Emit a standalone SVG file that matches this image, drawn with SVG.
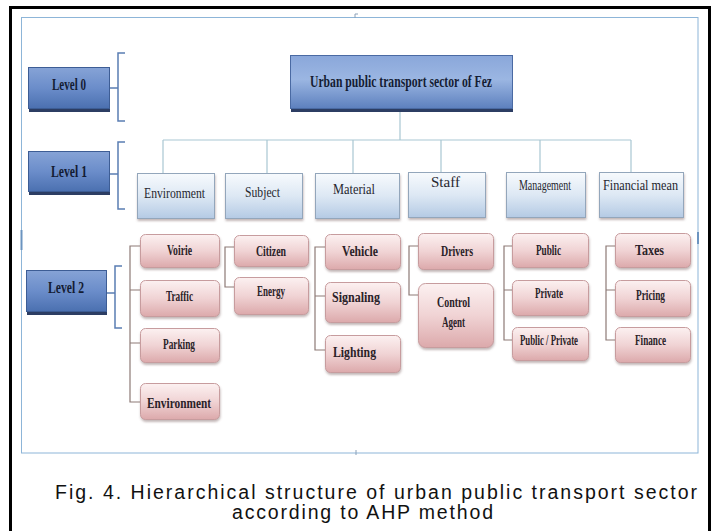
<svg xmlns="http://www.w3.org/2000/svg" width="718" height="531" viewBox="0 0 718 531">
  <defs>
    <linearGradient id="gDark" x1="0" y1="0" x2="0" y2="1">
      <stop offset="0" stop-color="#86a3d6"/>
      <stop offset="0.5" stop-color="#6b8dca"/>
      <stop offset="1" stop-color="#4b70b0"/>
    </linearGradient>
    <linearGradient id="gTop" x1="0" y1="0" x2="0" y2="1">
      <stop offset="0" stop-color="#8aa7da"/>
      <stop offset="0.45" stop-color="#9bb6e2"/>
      <stop offset="1" stop-color="#5d80be"/>
    </linearGradient>
    <linearGradient id="gL1" x1="0" y1="0" x2="0" y2="1">
      <stop offset="0" stop-color="#f7fafd"/>
      <stop offset="0.5" stop-color="#dde8f4"/>
      <stop offset="1" stop-color="#b4cae4"/>
    </linearGradient>
    <linearGradient id="gL2" x1="0" y1="0" x2="0" y2="1">
      <stop offset="0" stop-color="#fcf1f1"/>
      <stop offset="0.5" stop-color="#f0d3d4"/>
      <stop offset="1" stop-color="#dca9ab"/>
    </linearGradient>
    <filter id="soft" x="-10%" y="-10%" width="120%" height="140%">
      <feDropShadow dx="0.5" dy="2" stdDeviation="1.2" flood-color="#7a6060" flood-opacity="0.45"/>
    </filter>
  </defs>
  <style>
    .lvl { fill: url(#gDark); stroke: #3d5d95; stroke-width: 1; }
    .lvlsh { fill: #2c3d63; }
    .l1 { fill: url(#gL1); stroke: #93a6bb; stroke-width: 1; filter: url(#soft); }
    .l2 { fill: url(#gL2); stroke: #c79c9e; stroke-width: 1; filter: url(#soft); }
    .tl { font-family: "Liberation Serif", "DejaVu Serif", serif; font-weight: bold; font-size: 16.5px; fill: #141c33; }
    .t1 { font-family: "Liberation Serif", "DejaVu Serif", serif; font-size: 15.5px; fill: #26262e; }
    .t2 { font-family: "Liberation Serif", "DejaVu Serif", serif; font-weight: bold; font-size: 14.5px; fill: #2a2228; }
    .tree { fill: none; stroke: #a9c7d3; stroke-width: 1.2; }
    .sub { fill: none; stroke: #8d7a76; stroke-width: 1.2; }
    .brk { fill: none; stroke: #5a7db3; stroke-width: 1.5; }
    .cap { font-family: "Liberation Sans", Arial, sans-serif; font-size: 19.5px; fill: #111; }
  </style>

  <rect width="718" height="531" fill="#ffffff"/>
  <!-- outer frame -->
  <path d="M10.5 540 V7.5 H709.5 V540" fill="none" stroke="#000" stroke-width="3"/>
  <!-- inner picture frame with handles -->
  <rect x="21.5" y="17.5" width="676.5" height="435.5" fill="none" stroke="#8db5d8" stroke-width="1"/>
  <path d="M355 14 V18 M355 14 H358" stroke="#8aa0b8" stroke-width="1" fill="none"/>
  <path d="M356 450 V455" stroke="#8aa0b8" stroke-width="1" fill="none"/>
  <path d="M21.5 230 V250" stroke="#6b94c0" stroke-width="2"/>
  <path d="M698 232 V244" stroke="#6b94c0" stroke-width="2"/>

  <!-- connectors -->
  <g id="connectors">
    <!-- level brackets -->
    <path class="brk" d="M110 88 H118 M125 53 H118 V121 H125"/>
    <path class="brk" d="M110 174 H118 M125 142 H118 V209 H125"/>
    <path class="brk" d="M107 293 H115 M122 266 H115 V328 H122"/>
    <!-- level 0 to level 1 -->
    <path class="tree" d="M400 112 V140 M163 140 H631 M163 140 V173 M267 140 V173 M353 140 V173 M441 140 V173 M540 140 V173 M631 140 V173"/>
    <!-- level 1 to level 2 -->
    <path class="sub" d="M140 246 H130 V402 H140 M130 290 H140 M130 343 H140"/>
    <path class="sub" d="M234 247 H225 V287 H234"/>
    <path class="sub" d="M325 247 H315 V350 H325 M315 296 H325"/>
    <path class="sub" d="M418 246 H409 V295 H418"/>
    <path class="sub" d="M512 246 H504 V340 H512 M504 290 H512"/>
    <path class="sub" d="M615 246 H606 V340 H615 M606 290 H615"/>
  </g>

  <!-- level labels -->
  <g id="level0">
    <rect class="lvlsh" x="29" y="69" width="81" height="43"/>
    <rect class="lvl" x="28.5" y="67.5" width="81" height="41"/>
    <text class="tl" x="52" y="90" textLength="34" lengthAdjust="spacingAndGlyphs">Level 0</text>
  </g>
  <g id="level1">
    <rect class="lvlsh" x="29" y="153" width="81" height="42"/>
    <rect class="lvl" x="28.5" y="151.5" width="81" height="40"/>
    <text class="tl" x="51" y="177" textLength="36" lengthAdjust="spacingAndGlyphs">Level 1</text>
  </g>
  <g id="level2">
    <rect class="lvlsh" x="27" y="272" width="80" height="43"/>
    <rect class="lvl" x="26.5" y="270.5" width="80" height="41"/>
    <text class="tl" x="48" y="293" textLength="36" lengthAdjust="spacingAndGlyphs">Level 2</text>
  </g>

  <!-- goal -->
  <g id="goal">
    <rect class="lvlsh" x="291" y="57" width="222" height="55"/>
    <rect x="290.5" y="55.5" width="222" height="53" fill="url(#gTop)" stroke="#4a6aa3" stroke-width="1"/>
    <text class="tl" x="310" y="87" font-size="17" textLength="182" lengthAdjust="spacingAndGlyphs">Urban public transport sector of Fez</text>
  </g>

  <!-- criteria -->
  <g id="c-environment">
    <rect class="l1" x="137.5" y="173.5" width="77" height="45"/>
    <text class="t1" x="144" y="198" textLength="61" lengthAdjust="spacingAndGlyphs">Environment</text>
  </g>
  <g id="c-subject">
    <rect class="l1" x="225.5" y="173.5" width="77" height="45"/>
    <text class="t1" x="245" y="197" textLength="35" lengthAdjust="spacingAndGlyphs">Subject</text>
  </g>
  <g id="c-material">
    <rect class="l1" x="315.5" y="173.5" width="84" height="45"/>
    <text class="t1" x="333" y="194" textLength="42" lengthAdjust="spacingAndGlyphs">Material</text>
  </g>
  <g id="c-staff">
    <rect class="l1" x="408.5" y="172.5" width="77" height="45"/>
    <text class="t1" x="431" y="187" textLength="29" lengthAdjust="spacingAndGlyphs">Staff</text>
  </g>
  <g id="c-management">
    <rect class="l1" x="506.5" y="172.5" width="79" height="45"/>
    <text class="t1" x="519" y="190" textLength="52" lengthAdjust="spacingAndGlyphs">Management</text>
  </g>
  <g id="c-financial">
    <rect class="l1" x="599.5" y="172.5" width="84" height="45"/>
    <text class="t1" x="603" y="190" textLength="75" lengthAdjust="spacingAndGlyphs">Financial mean</text>
  </g>

  <!-- sub-criteria: environment -->
  <g id="s-voirie">
    <rect class="l2" x="140.5" y="234.5" width="79" height="33" rx="5"/>
    <text class="t2" x="167" y="255" textLength="25" lengthAdjust="spacingAndGlyphs">Voirie</text>
  </g>
  <g id="s-traffic">
    <rect class="l2" x="140.5" y="280.5" width="79" height="36" rx="5"/>
    <text class="t2" x="166" y="301" textLength="27" lengthAdjust="spacingAndGlyphs">Traffic</text>
  </g>
  <g id="s-parking">
    <rect class="l2" x="140.5" y="328.5" width="79" height="34" rx="5"/>
    <text class="t2" x="163" y="349" textLength="32" lengthAdjust="spacingAndGlyphs">Parking</text>
  </g>
  <g id="s-environment">
    <rect class="l2" x="140.5" y="383.5" width="79" height="36" rx="5"/>
    <text class="t2" x="147" y="408" textLength="64" lengthAdjust="spacingAndGlyphs">Environment</text>
  </g>

  <!-- sub-criteria: subject -->
  <g id="s-citizen">
    <rect class="l2" x="234.5" y="235.5" width="74" height="31" rx="5"/>
    <text class="t2" x="256" y="256" textLength="30" lengthAdjust="spacingAndGlyphs">Citizen</text>
  </g>
  <g id="s-energy">
    <rect class="l2" x="234.5" y="277.5" width="74" height="37" rx="5"/>
    <text class="t2" x="257" y="296" textLength="28" lengthAdjust="spacingAndGlyphs">Energy</text>
  </g>

  <!-- sub-criteria: material -->
  <g id="s-vehicle">
    <rect class="l2" x="325.5" y="234.5" width="75" height="35" rx="5"/>
    <text class="t2" x="342" y="256" textLength="36" lengthAdjust="spacingAndGlyphs">Vehicle</text>
  </g>
  <g id="s-signaling">
    <rect class="l2" x="325.5" y="282.5" width="75" height="40" rx="5"/>
    <text class="t2" x="332" y="302" textLength="48" lengthAdjust="spacingAndGlyphs">Signaling</text>
  </g>
  <g id="s-lighting">
    <rect class="l2" x="325.5" y="335.5" width="75" height="37" rx="5"/>
    <text class="t2" x="333" y="357" textLength="43" lengthAdjust="spacingAndGlyphs">Lighting</text>
  </g>

  <!-- sub-criteria: staff -->
  <g id="s-drivers">
    <rect class="l2" x="418.5" y="233.5" width="75" height="36" rx="5"/>
    <text class="t2" x="441" y="256" textLength="32" lengthAdjust="spacingAndGlyphs">Drivers</text>
  </g>
  <g id="s-control-agent">
    <rect class="l2" x="418.5" y="283.5" width="75" height="64" rx="7"/>
    <text class="t2" x="437" y="307" textLength="33" lengthAdjust="spacingAndGlyphs">Control</text>
    <text class="t2" x="442" y="327" textLength="23" lengthAdjust="spacingAndGlyphs">Agent</text>
  </g>

  <!-- sub-criteria: management -->
  <g id="s-public">
    <rect class="l2" x="512.5" y="233.5" width="76" height="34" rx="5"/>
    <text class="t2" x="536" y="255" textLength="25" lengthAdjust="spacingAndGlyphs">Public</text>
  </g>
  <g id="s-private">
    <rect class="l2" x="512.5" y="280.5" width="76" height="35" rx="5"/>
    <text class="t2" x="535" y="298" textLength="28" lengthAdjust="spacingAndGlyphs">Private</text>
  </g>
  <g id="s-public-private">
    <rect class="l2" x="512.5" y="327.5" width="76" height="33" rx="5"/>
    <text class="t2" x="520" y="345" textLength="58" lengthAdjust="spacingAndGlyphs">Public / Private</text>
  </g>

  <!-- sub-criteria: financial mean -->
  <g id="s-taxes">
    <rect class="l2" x="615.5" y="233.5" width="75" height="34" rx="5"/>
    <text class="t2" x="635" y="255" textLength="29" lengthAdjust="spacingAndGlyphs">Taxes</text>
  </g>
  <g id="s-pricing">
    <rect class="l2" x="615.5" y="280.5" width="75" height="36" rx="5"/>
    <text class="t2" x="636" y="300" textLength="29" lengthAdjust="spacingAndGlyphs">Pricing</text>
  </g>
  <g id="s-finance">
    <rect class="l2" x="615.5" y="327.5" width="75" height="35" rx="5"/>
    <text class="t2" x="635" y="345" textLength="31" lengthAdjust="spacingAndGlyphs">Finance</text>
  </g>

  <!-- caption -->
  <text class="cap" x="55" y="499" textLength="642" lengthAdjust="spacing">Fig. 4. Hierarchical structure of urban public transport sector</text>
  <text class="cap" x="232" y="519" textLength="261" lengthAdjust="spacing">according to AHP method</text>
</svg>
